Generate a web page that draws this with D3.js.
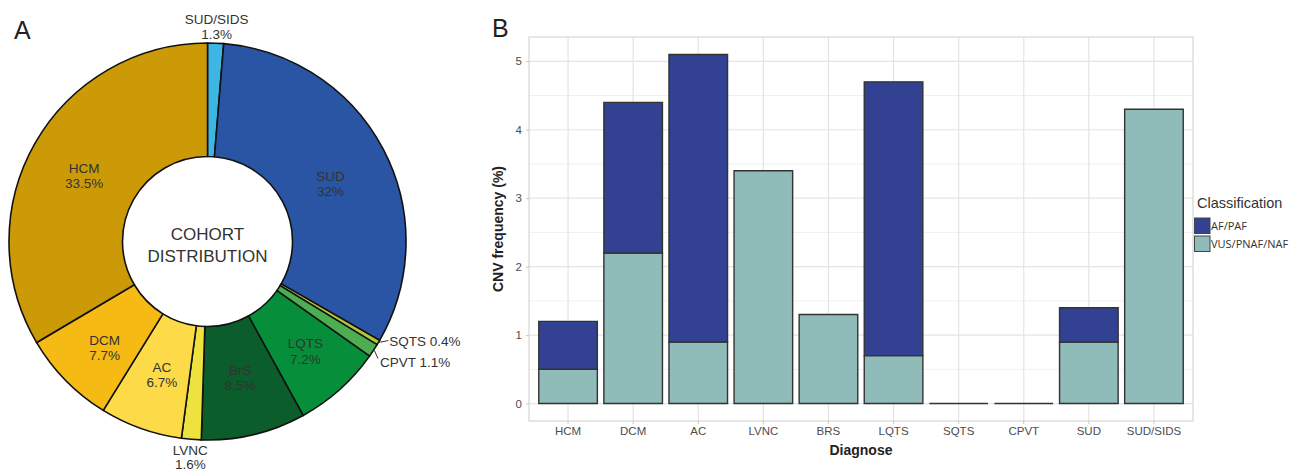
<!DOCTYPE html>
<html>
<head>
<meta charset="utf-8">
<script src="https://cdn.jsdelivr.net/npm/d3@7"></script>
<style>
  body { margin: 0; background: #fff; }
  svg text { font-family: "Liberation Sans", Arial, sans-serif; }
</style>
</head>
<body>
<div class="chart"></div>
<script>
// cohort distribution (panel A)
const cohortNames = ["SUD/SIDS", "SUD", "SQTS", "CPVT", "LQTS", "BrS", "LVNC", "AC", "DCM", "HCM"];
const cohortShare = [1.3, 32, 0.4, 1.1, 7.2, 8.5, 1.6, 6.7, 7.7, 33.5];
const cohortColors = ["#3db6e4", "#2a55a4", "#b5c43a", "#4cae50", "#078e3a", "#0b5d2b", "#eee33e", "#fcda48", "#f6ba15", "#cc9a07"];

// CNV frequency (panel B)
const diagnoses = ["HCM", "DCM", "AC", "LVNC", "BRS", "LQTS", "SQTS", "CPVT", "SUD", "SUD/SIDS"];
const vusValues = [0.5, 2.2, 0.9, 3.4, 1.3, 0.7, 0, 0, 0.9, 4.3];
const afValues = [0.7, 2.2, 4.2, 0, 0, 4.0, 0, 0, 0.5, 0];
const yTicks = [0, 1, 2, 3, 4, 5];
const classes = ["AF/PAF", "VUS/PNAF/NAF"];
const classColors = ["#324192", "#8fbbb9"];

const width = 1295, height = 471;
const svg = d3.select(".chart").append("svg")
  .attr("width", width)
  .attr("height", height);

// ---------- panel A ----------
const cx = 207.5, cy = 241.5, rOuter = 198.5, rInner = 85;
const pieData = d3.pie().sort(null).startAngle(0).endAngle(2 * Math.PI)(cohortShare);
const arc = d3.arc().innerRadius(rInner).outerRadius(rOuter);
const gPie = svg.append("g").attr("transform", `translate(${cx},${cy})`);

gPie.selectAll("path")
  .data(pieData)
  .enter()
  .append("path")
  .attr("d", arc)
  .attr("fill", (d, i) => cohortColors[i])
  .attr("stroke", "#111")
  .attr("stroke-width", 1.6);

svg.append("text").attr("x", 14).attr("y", 39).attr("font-size", 25).attr("fill", "#222").text("A");

function polar(i, r) {
  const d = pieData[i];
  const a = (d.startAngle + d.endAngle) / 2;
  return [cx + Math.sin(a) * r, cy - Math.cos(a) * r];
}

// inside labels: radius along the slice middle, then a small nudge
const insideLabels = {
  "SUD": [131, 7, 3],
  "LQTS": [147, 0, 0],
  "BrS": [140, 0, 0],
  "AC": [140, 1.5, 1.5],
  "DCM": [147, 2, 3.5],
  "HCM": [142, 0, 4.5]
};
cohortNames.forEach((name, i) => {
  if (!(name in insideLabels)) return;
  const [r, dx, dy] = insideLabels[name];
  const p = polar(i, r);
  const x = p[0] + dx, y = p[1] + dy;
  const t = svg.append("text")
    .attr("text-anchor", "middle")
    .attr("font-size", 13.5)
    .attr("fill", "#333");
  t.append("tspan").attr("x", x).attr("y", y - 3).text(name);
  t.append("tspan").attr("x", x).attr("y", y + 12.5).text(cohortShare[i] + "%");
});

// centre text
svg.append("text").attr("x", cx).attr("y", cy - 2).attr("text-anchor", "middle")
  .attr("font-size", 17).attr("fill", "#333").text("COHORT");
svg.append("text").attr("x", cx).attr("y", cy + 20).attr("text-anchor", "middle")
  .attr("font-size", 17).attr("fill", "#333").text("DISTRIBUTION");

// outside labels
const topLbl = polar(0, rOuter);
svg.append("text").attr("x", topLbl[0] + 1).attr("y", 23.5).attr("text-anchor", "middle")
  .attr("font-size", 13.5).attr("fill", "#333").text("SUD/SIDS");
svg.append("text").attr("x", topLbl[0] + 1).attr("y", 38.5).attr("text-anchor", "middle")
  .attr("font-size", 13.5).attr("fill", "#333").text(cohortShare[0] + "%");

const lvnc = polar(6, rOuter);
svg.append("text").attr("x", lvnc[0] - 1).attr("y", 455).attr("text-anchor", "middle")
  .attr("font-size", 13.5).attr("fill", "#333").text("LVNC");
svg.append("text").attr("x", lvnc[0] - 1).attr("y", 469).attr("text-anchor", "middle")
  .attr("font-size", 13.5).attr("fill", "#333").text(cohortShare[6] + "%");

const sq = polar(2, rOuter);
svg.append("line").attr("x1", sq[0]).attr("y1", sq[1]).attr("x2", sq[0] + 10).attr("y2", sq[1] - 2)
  .attr("stroke", "#333").attr("stroke-width", 1);
svg.append("text").attr("x", sq[0] + 11).attr("y", sq[1] + 3.5).attr("font-size", 13.5)
  .attr("fill", "#333").text("SQTS " + cohortShare[2] + "%");

const cp = polar(3, rOuter);
svg.append("line").attr("x1", cp[0] + 1).attr("y1", cp[1]).attr("x2", cp[0] + 4.5).attr("y2", cp[1] + 8)
  .attr("stroke", "#333").attr("stroke-width", 1);
svg.append("text").attr("x", cp[0] + 6.5).attr("y", cp[1] + 16.5).attr("font-size", 13.5)
  .attr("fill", "#333").text("CPVT " + cohortShare[3] + "%");

// ---------- panel B ----------
const px0 = 529, px1 = 1193, py0 = 37, py1 = 421;
const unit = (px1 - px0) / (diagnoses.length + 0.2);
const xScale = d3.scaleBand()
  .domain(diagnoses)
  .range([px0 + 0.6 * unit - unit / 2, px1 - 0.6 * unit + unit / 2])
  .paddingInner(0.1)
  .paddingOuter(0.05);
const yMax = 5.1;
const yScale = d3.scaleLinear().domain([-0.05 * yMax, yMax * 1.05]).range([py1, py0]);

svg.append("text").attr("x", 492).attr("y", 37).attr("font-size", 25).attr("fill", "#222").text("B");

const grid = svg.append("g");
// minor grid
[0.5, 1.5, 2.5, 3.5, 4.5].forEach((v) => {
  grid.append("line").attr("x1", px0).attr("x2", px1).attr("y1", yScale(v)).attr("y2", yScale(v))
    .attr("stroke", "#f0f0f0").attr("stroke-width", 1);
});
yTicks.forEach((v) => {
  grid.append("line").attr("x1", px0).attr("x2", px1).attr("y1", yScale(v)).attr("y2", yScale(v))
    .attr("stroke", "#e4e4e4").attr("stroke-width", 1.2);
});
diagnoses.forEach((c) => {
  const x = xScale(c) + xScale.bandwidth() / 2;
  grid.append("line").attr("x1", x).attr("x2", x).attr("y1", py0).attr("y2", py1)
    .attr("stroke", "#e4e4e4").attr("stroke-width", 1.2);
});
grid.append("rect").attr("x", px0).attr("y", py0).attr("width", px1 - px0).attr("height", py1 - py0)
  .attr("fill", "none").attr("stroke", "#d6d6d6").attr("stroke-width", 1.2);

// axes
const yAxis = d3.axisLeft(yScale).tickValues(yTicks).tickFormat(d3.format("d")).tickSize(3).tickPadding(4);
const gy = svg.append("g").attr("transform", `translate(${px0},0)`).call(yAxis);
gy.select(".domain").remove();
gy.selectAll("line").attr("stroke", "#c8c8c8");
gy.selectAll("text").attr("font-size", 11.5).attr("fill", "#4d4d4d")
  .style("font-family", "'Liberation Sans', Arial, sans-serif");

const xAxis = d3.axisBottom(xScale).tickSize(3).tickPadding(3);
const gx = svg.append("g").attr("transform", `translate(0,${py1})`).call(xAxis);
gx.select(".domain").remove();
gx.selectAll("line").attr("stroke", "#c8c8c8");
gx.selectAll("text").attr("font-size", 11.5).attr("fill", "#4d4d4d")
  .style("font-family", "'Liberation Sans', Arial, sans-serif");

// stacked bars
const rows = diagnoses.map((d, i) => ({ diag: d, vus: vusValues[i], af: afValues[i] }));
const stacked = d3.stack().keys(["vus", "af"])(rows);
const barColor = { vus: classColors[1], af: classColors[0] };

stacked.forEach((layer) => {
  svg.append("g")
    .selectAll("path")
    .data(layer.filter((d) => layer.key === "vus" || d[1] > d[0]))
    .enter()
    .append("path")
    .attr("d", (d) => {
      const x = xScale(d.data.diag), w = xScale.bandwidth();
      const y0 = yScale(d[0]), y1 = yScale(d[1]);
      return `M${x},${y0}H${x + w}V${y1}H${x}Z`;
    })
    .attr("fill", barColor[layer.key])
    .attr("stroke", "#333")
    .attr("stroke-width", 1.4);
});

// axis titles
svg.append("text").attr("x", (px0 + px1) / 2).attr("y", 455).attr("text-anchor", "middle")
  .attr("font-size", 14).attr("font-weight", "bold").attr("fill", "#222").text("Diagnose");
svg.append("text").attr("transform", `translate(503,${(py0 + py1) / 2}) rotate(-90)`)
  .attr("text-anchor", "middle").attr("font-size", 14).attr("font-weight", "bold")
  .attr("fill", "#222").text("CNV frequency (%)");

// legend
svg.append("text").attr("x", 1197).attr("y", 208).attr("font-size", 14.5).attr("fill", "#333")
  .text("Classification");
classes.forEach((c, i) => {
  const y = 218 + i * 18;
  svg.append("rect").attr("x", 1194.5).attr("y", y).attr("width", 15.5).attr("height", 15.5)
    .attr("fill", classColors[i]).attr("stroke", "#444").attr("stroke-width", 1);
  svg.append("text").attr("x", 1211).attr("y", y + 12).attr("font-size", 11)
    .style("font-family", "'Open Sans', sans-serif").attr("fill", "#333").text(c);
});
</script>
</body>
</html>
